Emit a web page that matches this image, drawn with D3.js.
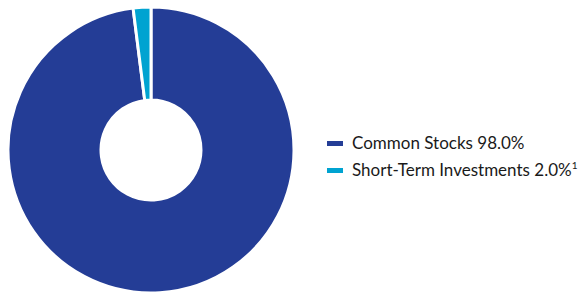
<!DOCTYPE html>
<html lang="en">
<head>
<meta charset="UTF-8">
<title>Portfolio Composition</title>
<style>
    body { margin: 0; background: #fff; font-family: Lato, "Open Sans", Arial, sans-serif; }
    .legend text { font-size: 17px; fill: #1a1a1a; }
</style>
</head>
<body>
<div id="chart"></div>
<script src="https://d3js.org/d3.v7.min.js"></script>
<script>
    // Holdings breakdown
    const categories = ["Common Stocks", "Short-Term Investments"];
    const values = [98.0, 2.0];
    const labels = ["Common Stocks 98.0%", "Short-Term Investments 2.0%"];
    const footnotes = ["", "1"];
    const colors = ["#243d96", "#00a3d1"];

    const width = 581, height = 295;
    const cx = 151, cy = 150;
    const outerR = 143, innerR = 50;

    const svg = d3.select("#chart")
        .append("svg")
        .attr("width", width)
        .attr("height", height);

    const pie = d3.pie().sort(null).value(d => d)(values);
    const arc = d3.arc().innerRadius(innerR).outerRadius(outerR);

    const g = svg.append("g").attr("transform", `translate(${cx},${cy})`);
    g.selectAll("path")
        .data(pie)
        .enter().append("path")
        .attr("d", arc)
        .attr("fill", (d, i) => colors[i])
        .attr("stroke", "#fff")
        .attr("stroke-width", 3)
        .attr("stroke-linejoin", "miter");

    // legend
    const legend = svg.append("g")
        .attr("class", "legend")
        .attr("transform", "translate(327,143)");

    const item = legend.selectAll("g")
        .data(categories)
        .enter().append("g")
        .attr("transform", (d, i) => `translate(0,${i * 27})`);

    item.append("rect")
        .attr("x", 0).attr("y", -2)
        .attr("width", 16).attr("height", 5)
        .attr("fill", (d, i) => colors[i]);

    const txt = item.append("text")
        .attr("x", 25)
        .attr("y", 6)
        .text((d, i) => labels[i]);
    txt.filter((d, i) => footnotes[i])
        .append("tspan")
        .attr("dy", -7)
        .style("font-size", "10px")
        .text((d, i) => footnotes[1]);
</script>
</body>
</html>
